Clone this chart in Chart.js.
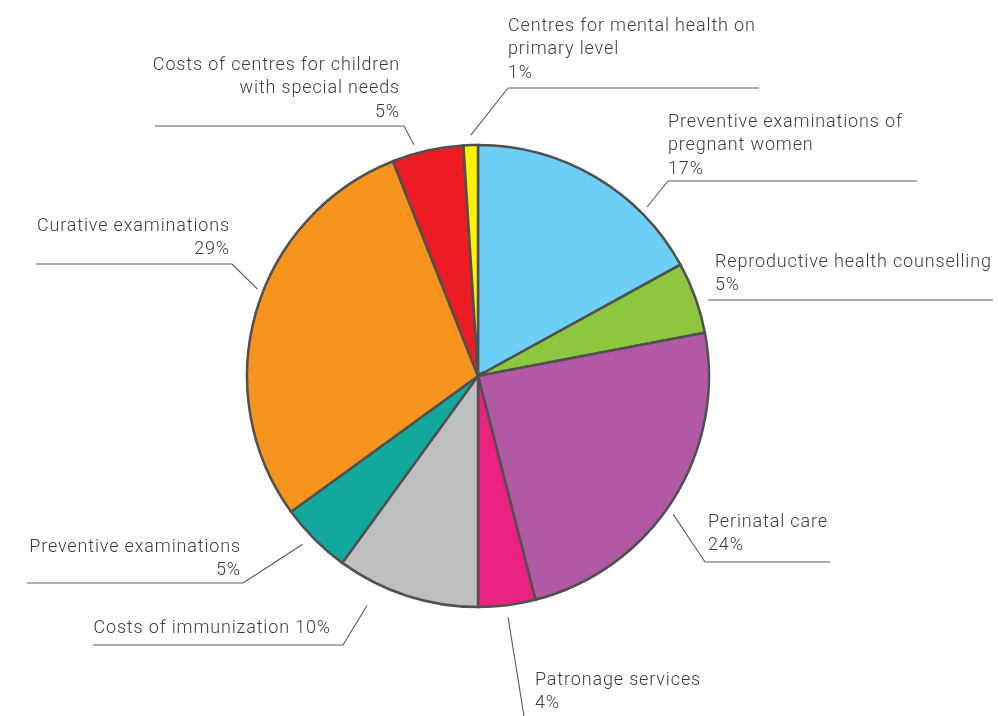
<!DOCTYPE html>
<html>
<head>
<meta charset="utf-8">
<script src="https://cdn.jsdelivr.net/npm/chart.js@4/dist/chart.umd.min.js"></script>
<style>
  html, body { margin: 0; padding: 0; background: #fff; }
  #wrap { width: 998px; height: 716px; position: relative; }
</style>
</head>
<body>
<div id="wrap"><canvas id="pie"></canvas></div>
<script>
// slices, clockwise from 12 o'clock
const categories = [
  "Preventive examinations of pregnant women",
  "Reproductive health counselling",
  "Perinatal care",
  "Patronage services",
  "Costs of immunization",
  "Preventive examinations",
  "Curative examinations",
  "Costs of centres for children with special needs",
  "Centres for mental health on primary level"
];
const shares = [17, 5, 24, 4, 10, 5, 29, 5, 1];
const sliceColors = ["#6dcff6", "#8dc63f", "#b159a4", "#ec2280", "#bcbec0", "#13a89e", "#f7941d", "#ed1c24", "#fff200"];

// label text lines as printed
const labelLines = [
  ["Preventive examinations of", "pregnant women", "17%"],
  ["Reproductive health counselling", "5%"],
  ["Perinatal care", "24%"],
  ["Patronage services", "4%"],
  ["Costs of immunization 10%"],
  ["Preventive examinations", "5%"],
  ["Curative examinations", "29%"],
  ["Costs of centres for children", "with special needs", "5%"],
  ["Centres for mental health on", "primary level", "1%"]
];

// annotation layout: text anchor, underline, leader (angle deg from top, distance from centre)
const labelLayout = [
  { align: "left",  x: 668, y: 122, ul: [668, 917, 181], ang: 45,    dist: 239 },
  { align: "left",  x: 715, y: 262, ul: [708, 993, 300], ang: null },
  { align: "left",  x: 708, y: 522, ul: [705, 830, 562], ang: 125.3, dist: 239 },
  { align: "left",  x: 535, y: 680, ul: null, ang: 172.9, dist: 243, tail: [524, 716] },
  { align: "right", x: 331, y: 628, ul: [343, 93, 645],  ang: 205.8, dist: 255 },
  { align: "right", x: 241, y: 547, ul: [243, 27, 583],  ang: 226.2, dist: 243 },
  { align: "right", x: 230, y: 226, ul: [232, 36, 264],  ang: 291.5, dist: 237 },
  { align: "right", x: 400, y: 65,  ul: [404, 155, 126], ang: 344.5, dist: 240 },
  { align: "left",  x: 508, y: 26,  ul: [508, 759, 88],  ang: 358.3, dist: 241 }
];

const calloutPlugin = {
  id: "callouts",
  afterDraw(chart) {
    const ctx = chart.ctx;
    const arc = chart.getDatasetMeta(0).data[0];
    const cx = arc.x, cy = arc.y;
    ctx.save();
    ctx.font = "300 18px Roboto";
    ctx.letterSpacing = "0.85px";
    ctx.fillStyle = "#3c3c3c";
    ctx.textBaseline = "middle";
    ctx.strokeStyle = "#5a5a5a";
    ctx.lineWidth = 1.1;
    labelLayout.forEach((L, i) => {
      ctx.textAlign = L.align;
      labelLines[i].forEach((t, k) => ctx.fillText(t, L.x, L.y + k * 23.5));
      ctx.beginPath();
      if (L.ang !== null) {
        const a = L.ang * Math.PI / 180;
        ctx.moveTo(cx + L.dist * Math.sin(a), cy - L.dist * Math.cos(a));
        if (L.ul) ctx.lineTo(L.ul[0], L.ul[2]);
        else ctx.lineTo(L.tail[0], L.tail[1]);
      }
      if (L.ul) {
        ctx.moveTo(L.ul[0], L.ul[2]);
        ctx.lineTo(L.ul[1], L.ul[2]);
      }
      ctx.stroke();
    });
    ctx.restore();
  }
};

new Chart(document.getElementById("pie"), {
  type: "pie",
  data: {
    labels: categories,
    datasets: [{
      data: shares,
      backgroundColor: sliceColors,
      borderColor: "#505050",
      borderWidth: 2.5,
      borderJoinStyle: "miter"
    }]
  },
  options: {
    responsive: true,
    maintainAspectRatio: false,
    animation: false,
    radius: 231,
    layout: { padding: { left: 247, right: 289, top: 145, bottom: 109 } },
    plugins: {
      legend: { display: false },
      tooltip: { enabled: false }
    }
  },
  plugins: [calloutPlugin]
});
</script>
</body>
</html>
